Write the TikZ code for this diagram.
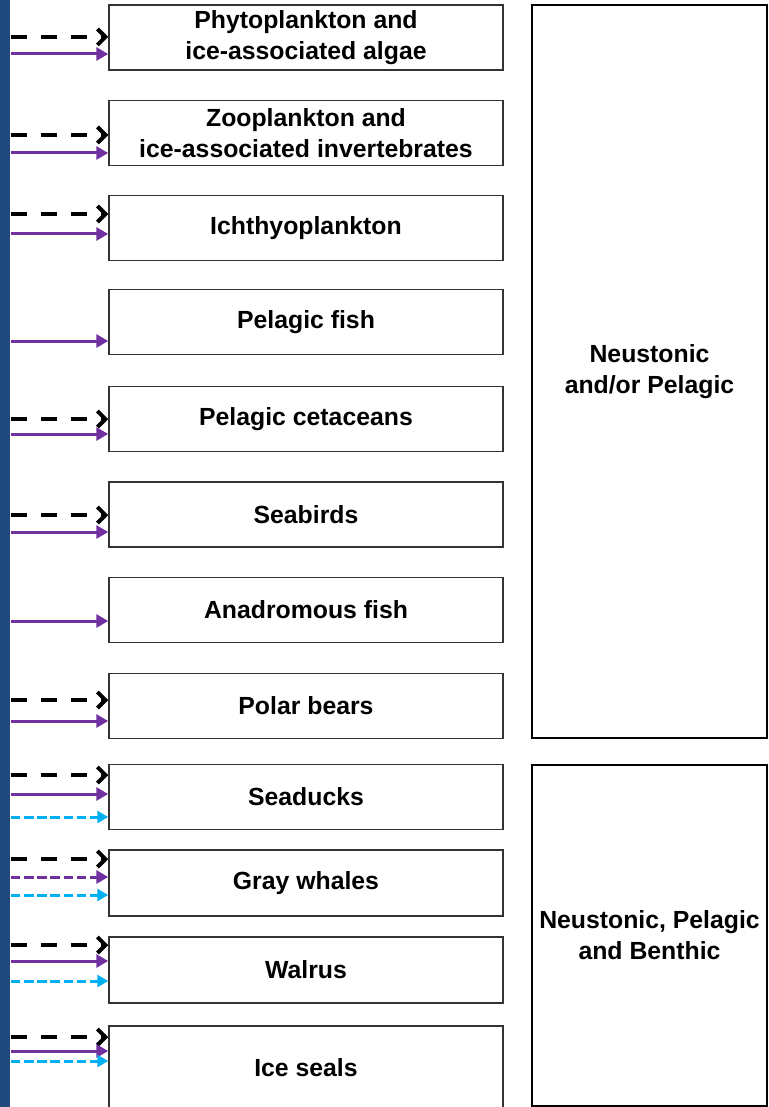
\documentclass[tikz,border=0pt]{standalone}
\usepackage{fontspec}
\setmainfont{Liberation Sans}
\usetikzlibrary{arrows.meta}
\definecolor{stripblue}{RGB}{31,73,125}
\definecolor{arcpurple}{RGB}{112,48,160}
\definecolor{arccyan}{RGB}{0,176,240}
\begin{document}
\begin{tikzpicture}[x=0.5pt,y=-0.5pt,
    every node/.style={font=\fontsize{12.4}{15.5}\selectfont\bfseries},
    group/.style={draw=black!80, line width=0.75pt, minimum width=197pt,
      minimum height=32.5pt, align=center, inner sep=0pt},
    habitat/.style={draw=black, line width=1pt, minimum width=117.5pt,
      align=center, inner sep=0pt},
    blk/.style={draw=black, line width=2pt, dash pattern=on 8pt off 7pt,
      -{Straight Barb[length=4pt,width=8pt]}},
    pur/.style={draw=arcpurple, line width=1.5pt,
      -{Triangle[length=6pt,width=6.5pt]}},
    purd/.style={pur, dash pattern=on 4.8pt off 1.8pt},
    cya/.style={draw=arccyan, line width=1.5pt, dash pattern=on 4.8pt off 1.8pt,
      -{Triangle[length=5.5pt,width=6pt]}}]
  \useasboundingbox (0,0) rectangle (768,1107);
  \fill[white] (0,0) rectangle (768,1107);
  \node[fill=stripblue, inner sep=0pt, minimum width=5pt, minimum height=553.5pt,
    anchor=north west] (strip) at (0,0) {};
  \node[group] (phyto) at (306,37.5) {Phytoplankton and\\ice-associated algae};
  \node[group] (zoo) at (306,133) {Zooplankton and\\ice-associated invertebrates};
  \node[group] (ichthyo) at (306,228) {Ichthyoplankton};
  \node[group] (pfish) at (306,322) {Pelagic fish};
  \node[group] (pceta) at (306,419) {Pelagic cetaceans};
  \node[group] (seabird) at (306,514.5) {Seabirds};
  \node[group] (anadrom) at (306,610) {Anadromous fish};
  \node[group] (polar) at (306,706) {Polar bears};
  \node[group] (seaduck) at (306,797) {Seaducks};
  \node[group, minimum height=33pt] (gray) at (306,883) {Gray whales};
  \node[group, minimum height=33pt] (walrus) at (306,970) {Walrus};
  \node[group, minimum height=42pt] (iceseal) at (306,1068) {Ice seals};
  \node[habitat, minimum height=366.5pt] (pelagic) at (649.5,371.5) {Neustonic\\and/or Pelagic};
  \node[habitat, minimum height=170.5pt] (benthic) at (649.5,935.5) {Neustonic, Pelagic\\and Benthic};
  \begin{scope}
    \draw[blk] (strip.east |- 0,37) -- (phyto.west |- 0,37);
    \draw[pur] (strip.east |- 0,54) -- (phyto.west |- 0,54);
    \draw[blk] (strip.east |- 0,135) -- (zoo.west |- 0,135);
    \draw[pur] (strip.east |- 0,153) -- (zoo.west |- 0,153);
    \draw[blk] (strip.east |- 0,214) -- (ichthyo.west |- 0,214);
    \draw[pur] (strip.east |- 0,234) -- (ichthyo.west |- 0,234);
    \draw[pur] (strip.east |- 0,341) -- (pfish.west |- 0,341);
    \draw[blk] (strip.east |- 0,419) -- (pceta.west |- 0,419);
    \draw[pur] (strip.east |- 0,434) -- (pceta.west |- 0,434);
    \draw[blk] (strip.east |- 0,515) -- (seabird.west |- 0,515);
    \draw[pur] (strip.east |- 0,532) -- (seabird.west |- 0,532);
    \draw[pur] (strip.east |- 0,621) -- (anadrom.west |- 0,621);
    \draw[blk] (strip.east |- 0,700) -- (polar.west |- 0,700);
    \draw[pur] (strip.east |- 0,721) -- (polar.west |- 0,721);
    \draw[blk] (strip.east |- 0,775) -- (seaduck.west |- 0,775);
    \draw[pur] (strip.east |- 0,794) -- (seaduck.west |- 0,794);
    \draw[cya] (strip.east |- 0,817) -- (seaduck.west |- 0,817);
    \draw[blk] (strip.east |- 0,859) -- (gray.west |- 0,859);
    \draw[purd] (strip.east |- 0,877) -- (gray.west |- 0,877);
    \draw[cya] (strip.east |- 0,895) -- (gray.west |- 0,895);
    \draw[blk] (strip.east |- 0,945) -- (walrus.west |- 0,945);
    \draw[pur] (strip.east |- 0,961) -- (walrus.west |- 0,961);
    \draw[cya] (strip.east |- 0,981) -- (walrus.west |- 0,981);
    \draw[blk] (strip.east |- 0,1037) -- (iceseal.west |- 0,1037);
    \draw[pur] (strip.east |- 0,1051) -- (iceseal.west |- 0,1051);
    \draw[cya] (strip.east |- 0,1061) -- (iceseal.west |- 0,1061);
  \end{scope}
\end{tikzpicture}
\end{document}
